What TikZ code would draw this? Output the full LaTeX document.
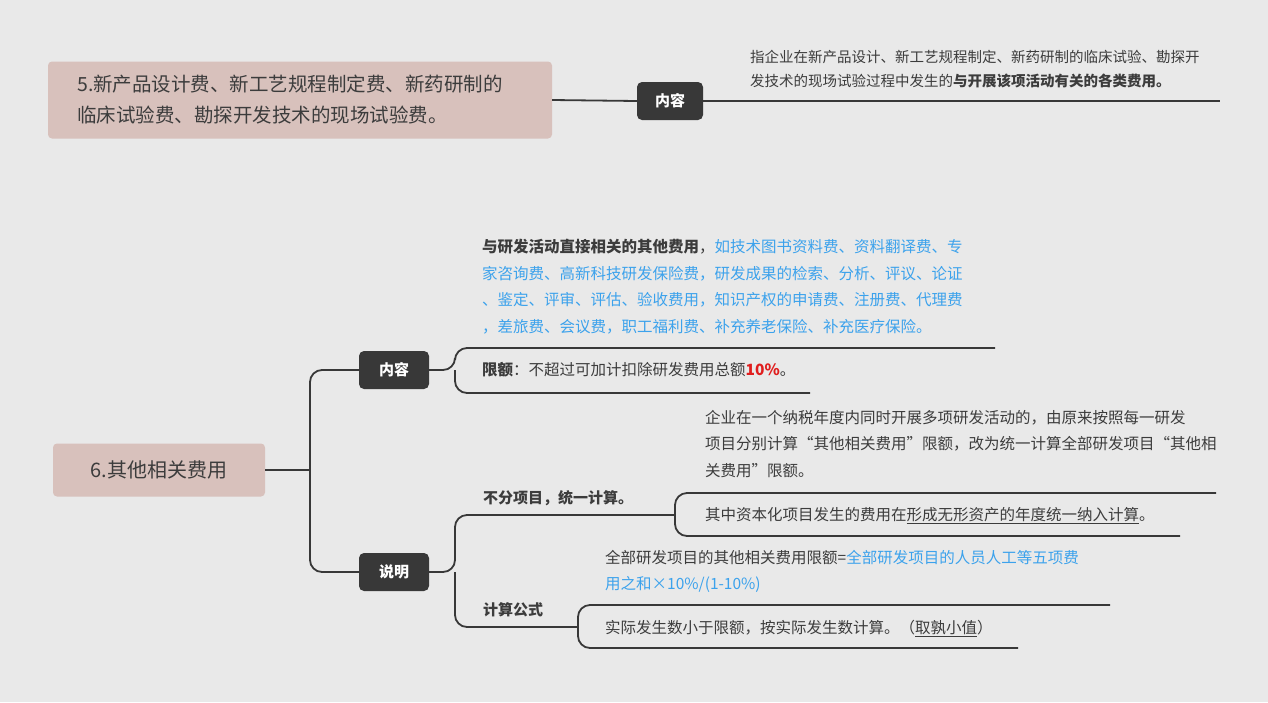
\documentclass[tikz,border=0pt]{standalone}
\usepackage{fontspec}
\setmainfont{Noto Sans CJK SC}
\definecolor{bg}{HTML}{E9E9E9}
\definecolor{pinkbox}{HTML}{D8C1BC}
\definecolor{dark}{HTML}{383838}
\definecolor{txt}{HTML}{3C3C3C}
\definecolor{blu}{HTML}{3CA2EC}
\definecolor{rd}{HTML}{E01E1E}
\begin{document}
\begin{tikzpicture}[x=1pt,y=-1pt,
  topic/.style={fill=pinkbox,rounded corners=4pt,text=txt,align=left,inner sep=0pt},
  tag/.style={fill=dark,rounded corners=5pt,text=white,font=\fontsize{15}{18}\selectfont\bfseries,minimum width=70pt,minimum height=38pt,inner sep=0pt},
  para/.style={anchor=north west,align=left,inner sep=0pt,text=txt,font=\fontsize{15.5}{26.5}\selectfont},
  conn/.style={draw=dark,line width=1.8pt,rounded corners=12pt}]
\fill[bg] (0,0) rectangle (1268,702);
\useasboundingbox (0,0) rectangle (1268,702);
% top
\node[topic,minimum width=504pt,minimum height=77pt] (t5) at (300,100) {};
\node[anchor=west,align=left,text=txt,font=\fontsize{19.5}{31}\selectfont,inner sep=0pt] (t5t) at (77,100) {5.新产品设计费、新工艺规程制定费、新药研制的\\临床试验费、勘探开发技术的现场试验费。};
\node[tag,minimum width=66pt] (n1) at (670,101) {内容};
\coordinate (e1) at (1220,101);
\draw[conn] (t5.east) -- (n1.west);
\draw[conn] (n1.east) -- (e1);
\node[para,font=\fontsize{14.5}{24}\selectfont] (p1) at (750,50) {指企业在新产品设计、新工艺规程制定、新药研制的临床试验、勘探开\\发技术的现场试验过程中发生的\textbf{与开展该项活动有关的各类费用。}};
% 6
\node[topic,minimum width=212pt,minimum height=53pt,font=\fontsize{20}{24}\selectfont] (t6) at (159,470) {6.其他相关费用};
\node[tag] (n2) at (394,370) {内容};
\node[tag] (n3) at (394,572) {说明};
\coordinate (f1) at (310,470);
\draw[conn] (t6.east) -- (f1);
\draw[conn] (f1) |- (n2.west);
\draw[conn] (f1) |- (n3.west);
% 内容 branches
\coordinate (f2) at (455,370);
\coordinate (e2) at (995,348);
\coordinate (e3) at (810,393);
\draw[conn] (n2.east) -- (f2) |- (e2);
\draw[conn] (f2) |- (e3);
\node[para] (p2) at (482,239) {\textbf{与研发活动直接相关的其他费用}，\textcolor{blu}{如技术图书资料费、资料翻译费、专}\\\textcolor{blu}{家咨询费、高新科技研发保险费，研发成果的检索、分析、评议、论证}\\\textcolor{blu}{、鉴定、评审、评估、验收费用，知识产权的申请费、注册费、代理费}\\\textcolor{blu}{，差旅费、会议费，职工福利费、补充养老保险、补充医疗保险。}};
\node[para] (p3) at (482,362) {\textbf{限额}：不超过可加计扣除研发费用总额\textcolor{rd}{\textbf{10\%}}。};
% 说明 branches
\coordinate (f3) at (455,572);
\coordinate (f4) at (675,515);
\coordinate (f5) at (578,627);
\draw[conn] (n3.east) -- (f3) |- (f4);
\draw[conn] (f3) |- (f5);
\node[anchor=west,inner sep=0pt,text=txt,font=\fontsize{15}{18}\selectfont\bfseries] (l1) at (483,498) {不分项目，统一计算。};
\node[anchor=west,inner sep=0pt,text=txt,font=\fontsize{15}{18}\selectfont\bfseries] (l2) at (483,610) {计算公式};
\coordinate (e4) at (1216,493);
\coordinate (e5) at (1180,536);
\draw[conn] (f4) |- (e4);
\draw[conn] (f4) |- (e5);
\node[para] (p4) at (705,410) {企业在一个纳税年度内同时开展多项研发活动的，由原来按照每一研发\\项目分别计算“其他相关费用”限额，改为统一计算全部研发项目“其他相\\关费用”限额。};
\node[para] (p5) at (705,507) {其中资本化项目发生的费用在\underline{形成无形资产的年度统一纳入计算}。};
\coordinate (e6) at (1110,605);
\coordinate (e7) at (1018,648);
\draw[conn] (f5) |- (e6);
\draw[conn] (f5) |- (e7);
\node[para] (p6) at (605,550) {全部研发项目的其他相关费用限额=\textcolor{blu}{全部研发项目的人员人工等五项费}\\\textcolor{blu}{用之和×10\%/(1-10\%)}};
\node[para] (p7) at (605,620) {实际发生数小于限额，按实际发生数计算。（\underline{取孰小值}）};
\end{tikzpicture}
\end{document}
